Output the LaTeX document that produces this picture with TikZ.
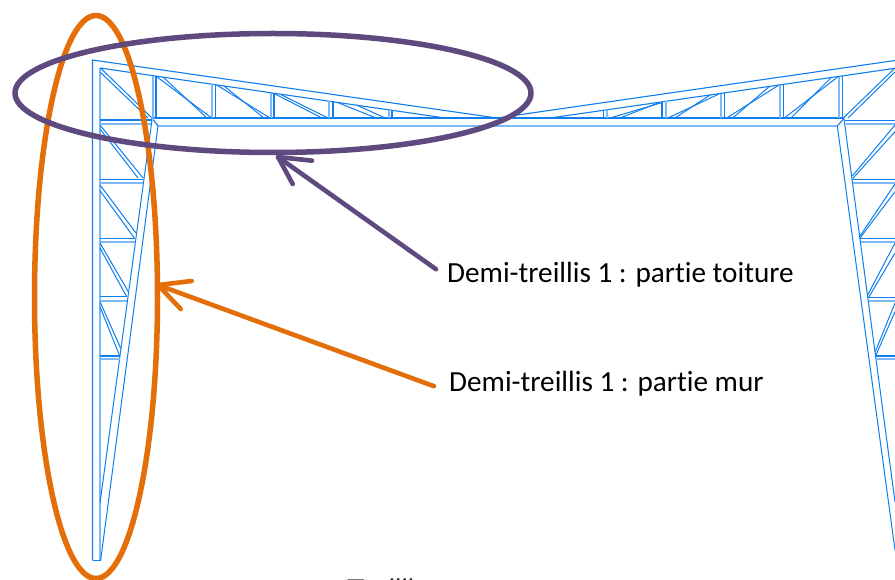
\documentclass[tikz,border=0pt]{standalone}
\usepackage{fontspec}
\setmainfont{Carlito}[Ligatures=NoCommon]
\newfontfamily\arialfont{Liberation Sans}
\definecolor{beam}{HTML}{0F7EEE}
\definecolor{beamlight}{HTML}{7DB9F6}
\definecolor{ringpurple}{HTML}{5F4A7F}
\definecolor{ringorange}{HTML}{E46F0A}
\tikzset{
  dk/.style={draw=beam,line width=1.1pt},
  lt/.style={draw=beamlight,line width=1.7pt},
  dg/.style={draw=beam,line width=1pt},
  ring/.style={line width=5.5pt},
  pointer/.style={line width=4.6pt,line cap=round,line join=round},
  lab/.style={font=\fontsize{29.2}{32}\selectfont,anchor=base west,inner xsep=12pt,inner ysep=0pt,text=black}
}
\begin{document}
\begin{tikzpicture}[x=1pt,y=-1pt]
\useasboundingbox (0,0) rectangle (895,580);
\clip (0,0) rectangle (895,580);
\fill[white] (0,0) rectangle (895,580);
% outer chords and columns
\draw[dk] (92.5,560.3) -- (92.5,60) -- (497,118) -- (895,60.5);
\draw[dk] (92.5,560.3) -- (100.7,560.3);
\draw[lt] (100,560) -- (100,68);
\draw[dk] (100,68) -- (445,118);
\draw[dk] (550,118) -- (895,68.3);
% bottom chord of the roof
\draw[dk] (152,118) -- (844,118);
\draw[lt] (158,126) -- (837.3,126);
\draw[dk] (152,118) -- (158,126);
\draw[dk] (844,118.5) -- (837.3,126);
% left strut
\draw[dg] (152,120) -- (100,503);
\draw[dg] (158,126) -- (100.7,560);
% right strut
\draw[dg] (837.3,126) -- (895,550);
\draw[dg] (844,119) -- (895,502);
% left roof verticals
\draw[lt] (152.7,75.6) -- (152.7,120);
\draw[dk] (156,76) -- (156,118);
\draw[lt] (212,84) -- (212,118);
\draw[dk] (215.7,84.8) -- (215.7,118);
\draw[lt] (271,92.8) -- (271,118);
\draw[dk] (274,93.2) -- (274,118);
\draw[lt] (329.3,101.2) -- (329.3,118);
\draw[dk] (333,101.8) -- (333,118);
\draw[lt] (388.7,109.9) -- (388.7,118);
\draw[dk] (392,110.3) -- (392,118);
% right roof verticals
\draw[dk] (603.3,110.4) -- (603.3,118);
\draw[lt] (607.3,109.8) -- (607.3,118);
\draw[dk] (662,102) -- (662,118);
\draw[lt] (666,101.4) -- (666,118);
\draw[lt] (720.7,93.6) -- (720.7,118);
\draw[dk] (724.7,93) -- (724.7,118);
\draw[lt] (779.7,85.2) -- (779.7,118);
\draw[dk] (783.3,84.6) -- (783.3,118);
\draw[lt] (839,76.7) -- (839,118);
\draw[dk] (842.7,76.1) -- (842.7,118);
% left roof diagonals
\draw[dg] (100.5,68) -- (152,118);
\draw[dg] (100,72) -- (148,118);
\draw[dg] (156.7,76.7) -- (211.7,118);
\draw[dg] (163,77) -- (207,118);
\draw[dg] (216.7,85) -- (270,118);
\draw[dg] (224,86) -- (264,118);
\draw[dg] (275,94) -- (322,118);
\draw[dg] (281,94.7) -- (328,118);
\draw[dg] (338,102.7) -- (376,118);
\draw[dg] (356.7,105) -- (385,118);
% right roof diagonals
\draw[dg] (610,118) -- (661.7,102.7);
\draw[dg] (620,118) -- (658,103);
\draw[dg] (668,118) -- (719,94);
\draw[dg] (675,118) -- (710,95);
\draw[dg] (726.7,118) -- (779,85);
\draw[dg] (732.7,118) -- (770,86);
\draw[dg] (784.3,118) -- (838,76.7);
\draw[dg] (791,118) -- (831.7,77);
\draw[dg] (843.3,118) -- (895,68);
\draw[dg] (848,118) -- (895,72);
% left wall horizontals
\draw[dk] (100,120) -- (152,120);
\draw[lt] (100,124) -- (151,124);
\draw[dk] (100,179.3) -- (143,179.3);
\draw[lt] (100,183.3) -- (142.5,183.3);
\draw[dk] (100,238.3) -- (135,238.3);
\draw[lt] (100,241.7) -- (134.5,241.7);
\draw[dk] (100,296.7) -- (127.3,296.7);
\draw[lt] (100,300.7) -- (127,300.7);
\draw[dk] (100,356) -- (120,356);
\draw[lt] (100,359.3) -- (119.5,359.3);
% left wall diagonals
\draw[dg] (100,125) -- (143.3,178.3);
\draw[dg] (100,129) -- (138,178);
\draw[dg] (100,185) -- (136,233);
\draw[dg] (100,190.7) -- (134.3,238);
\draw[dg] (100,243) -- (128.3,291.7);
\draw[dg] (100,248) -- (126.7,296.7);
\draw[dg] (100,301.7) -- (120.7,348.3);
\draw[dg] (100,306.7) -- (119.3,355);
% right wall horizontals
\draw[dk] (845,120.7) -- (895,120.7);
\draw[lt] (846,124) -- (895,124);
\draw[dk] (852.7,179.3) -- (895,179.3);
\draw[lt] (853,182.7) -- (895,182.7);
\draw[dk] (860,238.3) -- (895,238.3);
\draw[lt] (860.5,242) -- (895,242);
\draw[dk] (868,297.3) -- (895,297.3);
\draw[lt] (868.5,300.7) -- (895,300.7);
\draw[dk] (876,356) -- (895,356);
\draw[lt] (876.5,359.3) -- (895,359.3);
% right wall diagonals
\draw[dg] (852.3,176) -- (895,125);
\draw[dg] (852.3,179) -- (895,131.7);
\draw[dg] (860,236) -- (895,184);
\draw[dg] (860,238) -- (895,191.7);
\draw[dg] (867.7,295) -- (895,243);
\draw[dg] (868.3,298) -- (895,253);
\draw[dg] (875.3,351.7) -- (895,303);
\draw[dg] (876,355) -- (895,311.7);
% rings
\draw[ring,ringorange] (96,297) ellipse [x radius=61.5,y radius=281.5];
\draw[ring,ringpurple] (273,93) ellipse [x radius=258,y radius=59.5];
% labels
\node[lab] (toiture) at (435,283) {Demi-treillis 1 : partie toiture};
\node[lab] (mur) at (437,391.5) {Demi-treillis 1 : partie mur};
\node[font=\arialfont\fontsize{28.5}{30}\selectfont,anchor=base west,inner sep=0pt,text=black!85] (titre) at (347,599) {Treillis};
% pointers
\coordinate (tipA) at (278,157);
\coordinate (barbA1) at (312,160.7);
\coordinate (barbA2) at (292.7,184);
\coordinate (tipB) at (158,285);
\coordinate (barbB1) at (191.7,281);
\coordinate (barbB2) at (180.7,309);
\draw[pointer,ringpurple] ([xshift=1pt,yshift=6pt]toiture.west) -- (tipA);
\draw[pointer,ringpurple] (barbA1) -- (tipA) -- (barbA2);
\draw[pointer,ringorange] ([xshift=-3pt,yshift=-2.5pt]mur.west) -- (tipB);
\draw[pointer,ringorange] (barbB1) -- (tipB) -- (barbB2);
\end{tikzpicture}
\end{document}
